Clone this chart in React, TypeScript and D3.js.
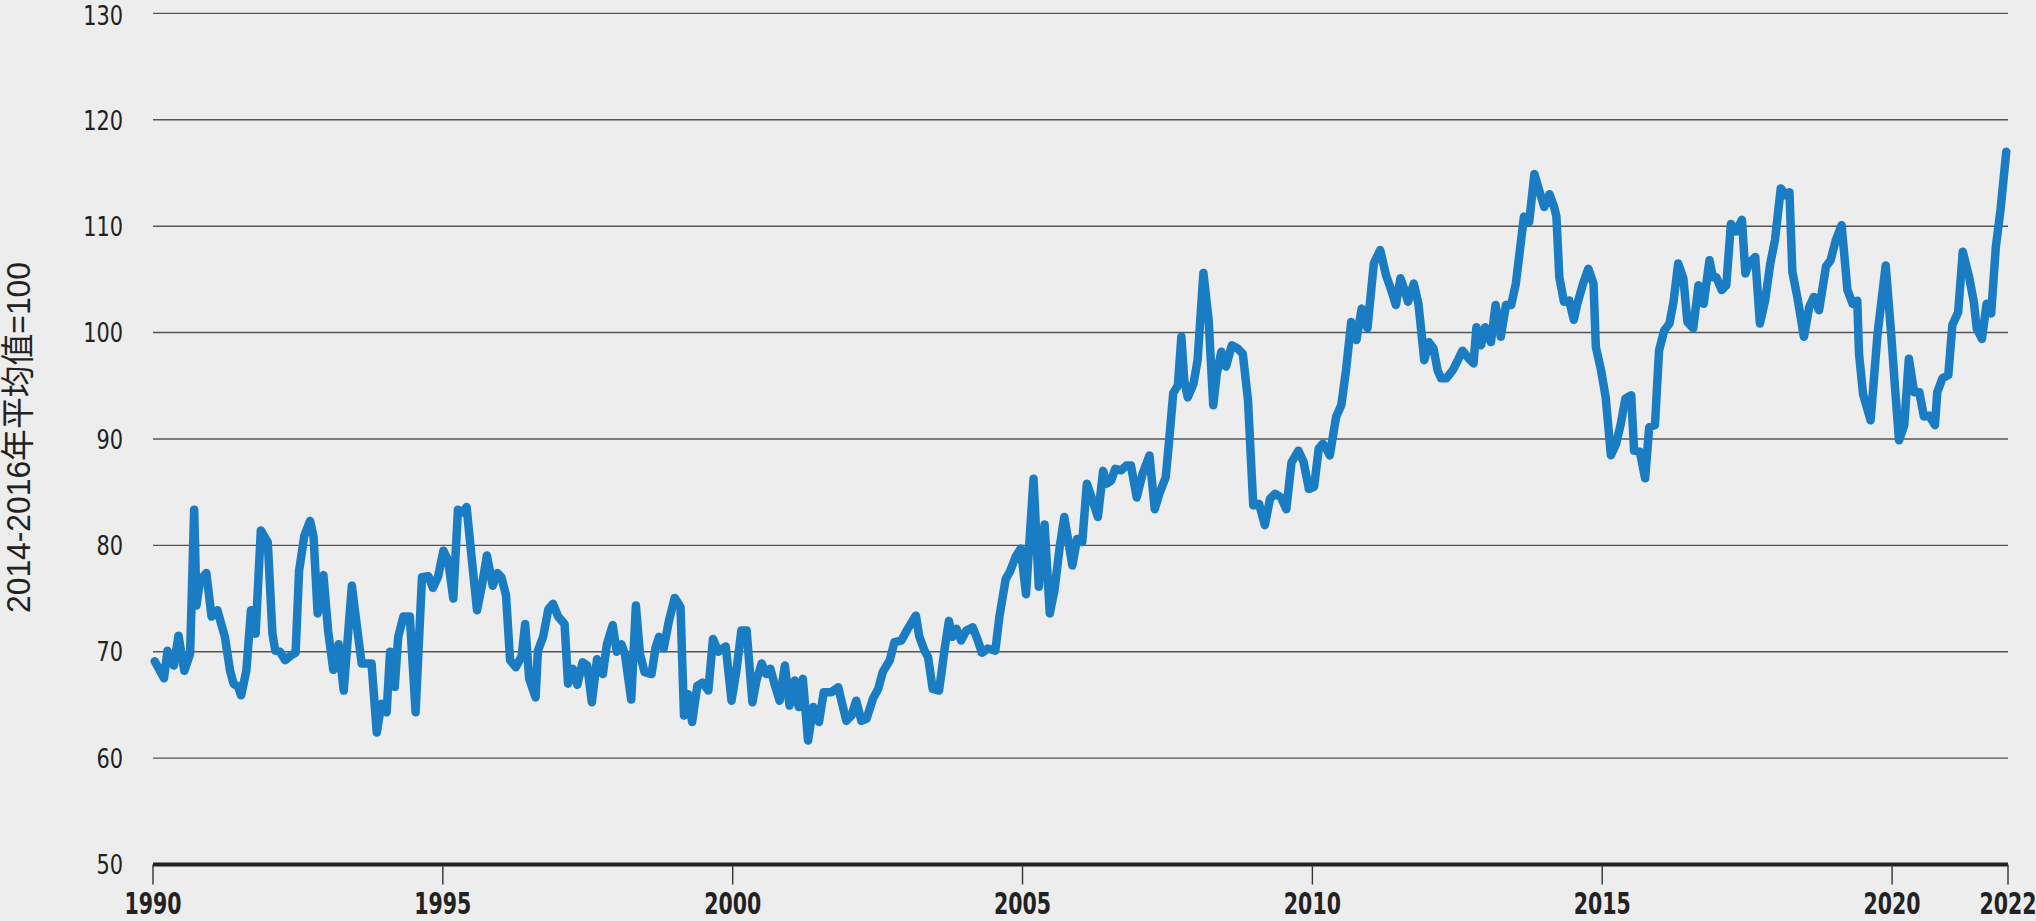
import React from "react";
import * as d3 from "d3";

// decimal years (x) and index values (y)
const years = [
  1990.03, 1990.19, 1990.25, 1990.36, 1990.44, 1990.54, 1990.64, 1990.71, 1990.75, 1990.81, 1990.92,
  1991.01, 1991.11, 1991.24, 1991.33, 1991.39, 1991.47, 1991.52, 1991.61, 1991.69, 1991.77, 1991.86, 1991.98,
  1992.06, 1992.11, 1992.19, 1992.28, 1992.39, 1992.46, 1992.52, 1992.61, 1992.71, 1992.77, 1992.84, 1992.94,
  1993.02, 1993.11, 1993.2, 1993.29, 1993.43, 1993.54, 1993.6, 1993.77, 1993.86, 1993.94,
  1994.03, 1994.09, 1994.17, 1994.23, 1994.32, 1994.43, 1994.53, 1994.64, 1994.75, 1994.83, 1994.92,
  1995.01, 1995.09, 1995.18, 1995.26, 1995.34, 1995.41, 1995.49, 1995.59, 1995.68, 1995.76, 1995.86, 1995.94,
  1996.01, 1996.09, 1996.16, 1996.26, 1996.36, 1996.42, 1996.49, 1996.6, 1996.64, 1996.73, 1996.82, 1996.9, 1996.99,
  1997.1, 1997.16, 1997.24, 1997.32, 1997.41, 1997.49, 1997.57, 1997.66, 1997.76, 1997.83, 1997.93,
  1998.0, 1998.08, 1998.14, 1998.25, 1998.33, 1998.4, 1998.48, 1998.6, 1998.67, 1998.73, 1998.81, 1998.9,
  1999.0, 1999.1, 1999.16, 1999.23, 1999.3, 1999.39, 1999.48, 1999.58, 1999.66, 1999.75, 1999.88, 1999.98,
  2000.06, 2000.15, 2000.24, 2000.34, 2000.41, 2000.5, 2000.58, 2000.65, 2000.72, 2000.81, 2000.9, 2000.98,
  2001.07, 2001.14, 2001.21, 2001.3, 2001.39, 2001.49, 2001.57, 2001.7, 2001.82, 2001.96,
  2002.05, 2002.13, 2002.22, 2002.31, 2002.42, 2002.51, 2002.59, 2002.71, 2002.79, 2002.91,
  2003.02, 2003.16, 2003.22, 2003.31, 2003.37, 2003.45, 2003.56, 2003.66, 2003.73, 2003.79, 2003.86, 2003.94,
  2004.03, 2004.14, 2004.23, 2004.3, 2004.4, 2004.53, 2004.6, 2004.71, 2004.78, 2004.88, 2004.97,
  2005.06, 2005.19, 2005.28, 2005.38, 2005.47, 2005.55, 2005.64, 2005.72, 2005.86, 2005.94,
  2006.03, 2006.11, 2006.21, 2006.3, 2006.39, 2006.45, 2006.53, 2006.6, 2006.7, 2006.79, 2006.87, 2006.97,
  2007.07, 2007.19, 2007.28, 2007.36, 2007.47, 2007.53, 2007.6, 2007.68, 2007.74, 2007.79, 2007.85, 2007.95,
  2008.02, 2008.12, 2008.21, 2008.29, 2008.35, 2008.43, 2008.51, 2008.61, 2008.71, 2008.8, 2008.89, 2008.98,
  2009.08, 2009.18, 2009.27, 2009.36, 2009.46, 2009.55, 2009.64, 2009.76, 2009.85, 2009.94,
  2010.03, 2010.11, 2010.18, 2010.24, 2010.3, 2010.41, 2010.5, 2010.58, 2010.67, 2010.76, 2010.85, 2010.95,
  2011.06, 2011.17, 2011.27, 2011.36, 2011.44, 2011.52, 2011.59, 2011.65, 2011.75, 2011.83, 2011.93,
  2012.01, 2012.09, 2012.16, 2012.22, 2012.31, 2012.42, 2012.51, 2012.59, 2012.7, 2012.78, 2012.83, 2012.91, 2012.98,
  2013.08, 2013.16, 2013.25, 2013.34, 2013.43, 2013.51, 2013.58, 2013.65, 2013.74, 2013.83, 2013.91,
  2014.0, 2014.09, 2014.17, 2014.21, 2014.26, 2014.34, 2014.43, 2014.51, 2014.57, 2014.67, 2014.76, 2014.85, 2014.89, 2014.98,
  2015.06, 2015.15, 2015.24, 2015.32, 2015.4, 2015.5, 2015.55, 2015.65, 2015.74, 2015.81, 2015.91, 2015.98,
  2016.07, 2016.16, 2016.23, 2016.31, 2016.4, 2016.47, 2016.57, 2016.66, 2016.75, 2016.85, 2016.91, 2016.97,
  2017.06, 2017.14, 2017.22, 2017.31, 2017.41, 2017.47, 2017.53, 2017.64, 2017.72, 2017.81, 2017.9, 2017.98,
  2018.08, 2018.17, 2018.23, 2018.28, 2018.37, 2018.48, 2018.57, 2018.65, 2018.74, 2018.86, 2018.94,
  2019.03, 2019.13, 2019.23, 2019.32, 2019.4, 2019.43, 2019.5, 2019.63, 2019.75, 2019.89, 2019.98,
  2020.05, 2020.12, 2020.21, 2020.29, 2020.38, 2020.47, 2020.55, 2020.64, 2020.74, 2020.78, 2020.87, 2020.97,
  2021.04, 2021.14, 2021.22, 2021.33, 2021.41, 2021.46, 2021.55, 2021.63, 2021.71, 2021.79, 2021.87, 2021.97,
];

const values = [
  69.1, 67.5, 70.1, 68.7, 71.5, 68.2, 69.8, 83.35, 74.35, 76.7, 77.4,
  73.3, 73.9, 71.4, 68.2, 67.0, 66.7, 65.9, 68.2, 73.9, 71.7, 81.4, 80.3,
  71.7, 70.1, 70.0, 69.2, 69.7, 69.9, 77.6, 80.9, 82.3, 80.8, 73.6, 77.2,
  72.0, 68.3, 70.7, 66.35, 76.2, 71.4, 68.9, 68.9, 62.4, 65.1,
  64.3, 70.0, 66.7, 71.4, 73.3, 73.3, 64.3, 77.0, 77.1, 76.0, 77.1,
  79.5, 78.6, 75.0, 83.35, 83.1, 83.6, 79.2, 73.9, 76.4, 79.05, 76.2, 77.4,
  77.0, 75.3, 69.2, 68.55, 69.6, 72.6, 67.45, 65.7, 70.1, 71.4, 74.0, 74.5, 73.3,
  72.6, 67.0, 68.4, 66.9, 69.0, 68.7, 65.25, 69.3, 67.9, 70.7, 72.5,
  70.0, 70.7, 69.8, 65.5, 74.35, 69.8, 68.07, 67.9, 70.4, 71.4, 70.3, 72.9,
  75.06, 74.2, 64.0, 66.0, 63.4, 66.8, 67.1, 66.35, 71.2, 70.0, 70.5, 65.4,
  68.07, 72.0, 72.0, 65.25, 67.3, 68.9, 67.9, 68.4, 67.0, 65.4, 68.7, 64.94,
  67.3, 64.8, 67.45, 61.65, 64.8, 63.4, 66.2, 66.2, 66.66, 63.5,
  64.0, 65.4, 63.5, 63.7, 65.6, 66.5, 68.1, 69.2, 70.9, 71.05,
  72.15, 73.4, 71.4, 70.1, 69.5, 66.5, 66.35, 70.4, 72.9, 71.4, 72.15, 71.05,
  72.0, 72.3, 71.05, 69.9, 70.3, 70.1, 73.25, 76.85, 77.5, 78.9, 79.7,
  75.4, 86.26, 76.1, 81.97, 73.6, 75.76, 79.8, 82.66, 78.1, 80.6,
  80.3, 85.8, 84.2, 82.66, 87.0, 85.8, 86.1, 87.2, 87.05, 87.5, 87.5, 84.5,
  86.7, 88.45, 83.4, 84.85, 86.4, 89.9, 94.3, 95.04, 99.6, 95.5, 93.9, 95.2,
  97.4, 105.6, 101.2, 93.16, 96.1, 98.2, 96.8, 98.8, 98.5, 98.0, 93.6, 83.75,
  83.9, 81.9, 84.4, 84.85, 84.5, 83.4, 87.8, 88.9, 87.8, 85.3,
  85.5, 89.1, 89.55, 89.1, 88.45, 92.1, 93.2, 96.45, 101.0, 99.3, 102.25, 100.4,
  106.5, 107.75, 105.4, 104.0, 102.6, 105.1, 104.0, 102.9, 104.6, 102.7, 97.4,
  99.1, 98.5, 96.45, 95.7, 95.7, 96.45, 97.4, 98.3, 97.55, 97.1, 100.5, 98.8, 100.5,
  99.1, 102.6, 99.6, 102.6, 102.6, 104.6, 107.75, 110.9, 110.4, 114.9, 113.4,
  111.8, 113.0, 111.8, 110.9, 105.2, 102.9, 103.0, 101.2, 102.7, 104.6, 106.0, 104.6, 98.65, 96.45,
  93.9, 88.46, 89.55, 91.4, 93.8, 94.1, 88.9, 88.8, 86.3, 91.1, 91.3, 98.3,
  100.2, 100.85, 102.9, 106.5, 105.1, 101.0, 100.4, 104.45, 102.7, 106.8, 105.2, 105.2,
  104.0, 104.45, 110.2, 109.5, 110.6, 105.55, 106.5, 107.1, 100.85, 103.0, 106.5, 108.7,
  113.55, 112.9, 113.2, 105.7, 103.2, 99.6, 102.4, 103.35, 102.1, 106.2, 106.8,
  108.7, 110.1, 104.0, 102.7, 103.0, 98.0, 94.2, 91.75, 99.9, 106.3, 100.2,
  94.9, 89.87, 91.3, 97.55, 94.4, 94.4, 92.1, 92.2, 91.3, 94.4, 95.7, 96.0,
  100.7, 101.9, 107.6, 105.2, 102.9, 100.4, 99.4, 102.7, 101.8, 108.05, 111.5, 117.0,
];

const yTicks = [50, 60, 70, 80, 90, 100, 110, 120, 130];
const xTicks = [1990, 1995, 2000, 2005, 2010, 2015, 2020, 2022];
const yTitle = "2014-2016年平均值=100";

const W = 2036;
const H = 921;

export default function App() {
  const x = d3.scaleLinear().domain([1990, 2022]).range([153, 2008]);
  const y = d3.scaleLinear().domain([50, 130]).range([864.5, 13.4]);
  const data: [number, number][] = years.map((t, i) => [t, values[i]]);
  const line = d3
    .line<[number, number]>()
    .x((d) => x(d[0]))
    .y((d) => y(d[1]));

  const cond = '"DejaVu Sans Condensed", "DejaVu Sans", sans-serif';

  return (
    <svg
      width={W}
      height={H}
      style={{ position: "absolute", left: 0, top: 0, display: "block" }}
    >
      <rect x={0} y={0} width={W} height={H} fill="#ededed" />
      {yTicks
        .filter((t) => t !== 50)
        .map((t) => (
          <line
            key={"g" + t}
            x1={x(1990)}
            x2={x(2022)}
            y1={y(t)}
            y2={y(t)}
            stroke="#555"
            strokeWidth={1.4}
          />
        ))}
      {yTicks.map((t) => (
        <text
          key={"yl" + t}
          transform={`translate(123, ${Math.max(y(t), 15)}) scale(0.86, 1)`}
          dy="0.36em"
          textAnchor="end"
          fontFamily={cond}
          fontSize={27}
          fill="#222"
        >
          {t}
        </text>
      ))}
      <path
        d={line(data) || ""}
        fill="none"
        stroke="#1a7cc2"
        strokeWidth={8.5}
        strokeLinejoin="round"
        strokeLinecap="round"
      />
      <line x1={x(1990)} x2={x(2022)} y1={y(50)} y2={y(50)} stroke="#222" strokeWidth={4} />
      {xTicks.map((t) => (
        <g key={"xt" + t}>
          <line x1={x(t)} x2={x(t)} y1={y(50)} y2={y(50) + 20} stroke="#333" strokeWidth={1.4} />
          <text
            transform={`translate(${Math.min(x(t), 2036 - 25)}, 914) scale(0.76, 1)`}
            textAnchor="middle"
            fontFamily={cond}
            fontWeight="bold"
            fontSize={30}
            fill="#222"
          >
            {t}
          </text>
        </g>
      ))}
      <text
        transform={`translate(30, 437.5) rotate(-90)`}
        textAnchor="middle"
        fontFamily='"Liberation Sans", "Noto Sans CJK SC", sans-serif'
        fontSize={34}
        fill="#222"
        textLength={351}
        lengthAdjust="spacingAndGlyphs"
      >
        {yTitle}
      </text>
    </svg>
  );
}
